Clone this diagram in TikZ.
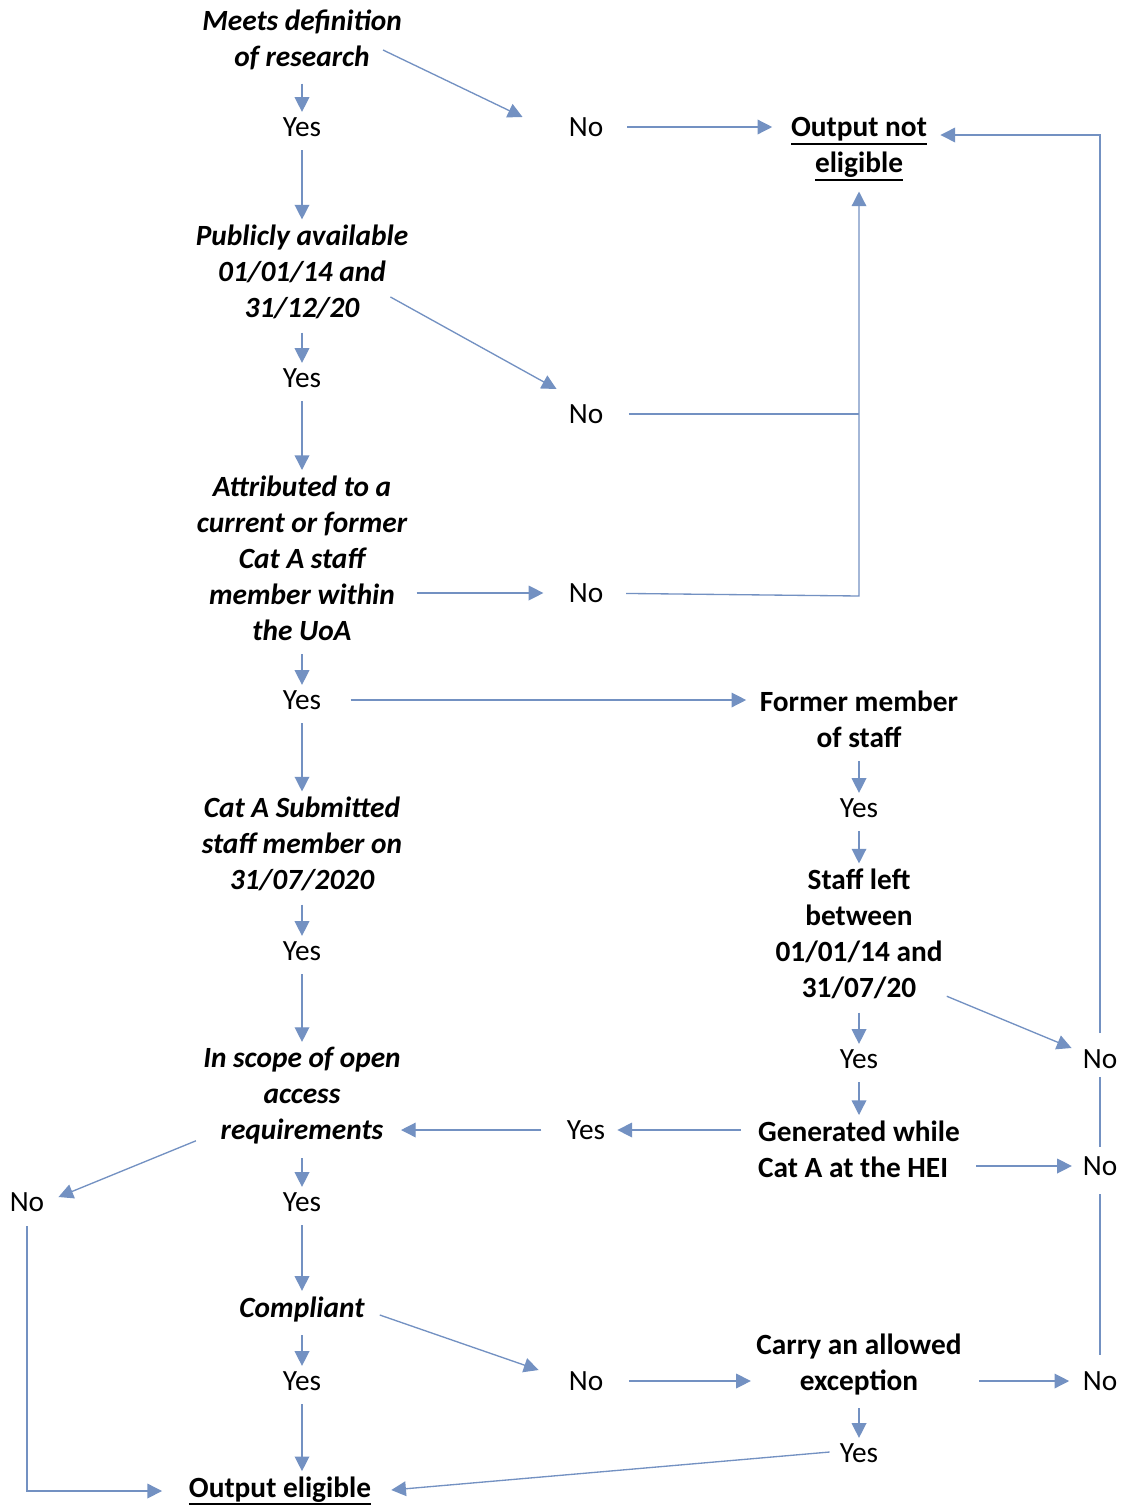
\documentclass[tikz,border=0pt]{standalone}
\usepackage{fontspec}
\setmainfont{Carlito}
\usepackage{tikz}
\usetikzlibrary{arrows.meta,positioning,calc}
\definecolor{rline}{HTML}{7391C2}
\newcommand{\thickul}[1]{\setbox0\hbox{#1}\leavevmode\copy0\llap{\rule[-0.27em]{\wd0}{1.5pt}}}

\begin{document}
\begin{tikzpicture}[x=0.75pt,y=-0.75pt,
  every node/.style={font=\fontsize{22}{27}\selectfont,inner sep=0pt},
  ques/.style={font=\fontsize{22}{27}\selectfont\bfseries\itshape,align=center},
  stat/.style={font=\fontsize{22}{27}\selectfont\bfseries,align=center},
  arr/.style={draw=rline,line width=1pt,-{Triangle[length=11pt,width=11pt]}},
  down/.style={arr,shorten <=10pt,shorten >=4pt},
  link/.style={draw=rline,line width=1pt}]
  \useasboundingbox (0,0) rectangle (1123,1507);
  % left column
  \node[ques] (meets) at (302,40) {Meets definition\\of research};
  \node (yesA) at (302,127) {Yes};
  \node[ques] (public) at (302,272) {Publicly available\\01/01/14 and\\31/12/20};
  \node (yesB) at (302,378) {Yes};
  \node[ques] (attrib) at (302,558) {Attributed to a\\current or former\\Cat A staff\\member within\\the UoA};
  \node (yesC) at (302,700) {Yes};
  \node[ques] (catA) at (302,844) {Cat A Submitted\\staff member on\\31/07/2020};
  \node (yesD) at (302,951) {Yes};
  \node[ques] (scope) at (302,1096) {In scope of open\\access\\requirements};
  \node (yesE) at (302,1202) {Yes};
  \node[ques] (compl) at (302,1309) {Compliant};
  \node (yesK) at (302,1381) {Yes};
  \node[stat] (elig) at (280,1491) {\thickul{Output eligible}};
  \node (noE) at (27,1202) {No};
  % middle column
  \node (noA) at (586,127) {No};
  \node (noB) at (586,414) {No};
  \node (noC) at (586,593) {No};
  \node (yesH) at (586,1130) {Yes};
  \node (noK) at (586,1381) {No};
  % right column
  \node[stat] (notel) at (859,149) {\thickul{Output not}\\\thickul{eligible}};
  \node[stat] (former) at (859,719) {Former member\\of staff};
  \node (yesF) at (859,808) {Yes};
  \node[stat] (left) at (859,934) {Staff left\\between\\01/01/14 and\\31/07/20};
  \node (yesG) at (859,1059) {Yes};
  \node[stat,align=left] (gener) at (859,1149) {Generated while\\Cat A at the HEI};
  \node[stat] (except) at (859,1364) {Carry an allowed\\exception};
  \node (yesX) at (859,1453) {Yes};
  \node (noG) at (1100,1059) {No};
  \node (noH) at (1100,1166) {No};
  \node (noX) at (1100,1381) {No};
  \coordinate (jn) at (859,596);

  % yes branches
  \draw[down] (meets) -- (yesA);
  \draw[down] (yesA) -- (public);
  \draw[down] (public) -- (yesB);
  \draw[down] (yesB) -- (attrib);
  \draw[down] (attrib) -- (yesC);
  \draw[down] (yesC) -- (catA);
  \draw[down] (catA) -- (yesD);
  \draw[down] (yesD) -- (scope);
  \draw[down] (scope) -- (yesE);
  \draw[down] (yesE) -- (compl);
  \draw[down] (compl) -- (yesK);
  \draw[down] (yesK) -- (elig.north -| yesK);
  \draw[down] (former) -- (yesF);
  \draw[down] (yesF) -- (left);
  \draw[down] (left) -- (yesG);
  \draw[down] (yesG) -- (gener.north -| yesG);
  \draw[down] (except) -- (yesX);

  % no branches
  \draw[arr] ($(meets.east)+(-19,10)$) -- ($(noA.west)+(-46,-10)$);
  \draw[arr,shorten <=18pt,shorten >=14pt] (noA) -- (notel.west |- noA);
  \draw[arr] ($(public.east)+(-18,25)$) -- ($(noB.west)+(-12,-25)$);
  \draw[link,shorten <=19pt] (noB) -- (noB -| jn);
  \draw[arr,shorten <=7pt] (attrib.east |- noC) -- ++(136,0);
  \draw[arr,shorten <=17pt,shorten >=8pt] (noC) -- (jn) -- (notel.south);
  \draw[arr,shorten <=22pt,shorten >=10pt] (yesC) -- (yesC -| former.west);
  \draw[arr] ($(left.south east)+(4,-3)$) -- ($(noG.west)+(-11,-11)$);
  \draw[arr,shorten <=12pt,shorten >=10pt] (noG) |- ($(notel.east)+(0,-14)$);
  \draw[link,shorten <=6pt,shorten >=7pt] (noG) -- (noH);
  \draw[link,shorten <=14pt,shorten >=12pt] (noH) -- (noX);
  \draw[arr,shorten <=13pt,shorten >=9pt] (gener.west |- yesH) -- (yesH);
  \draw[arr,shorten <=19pt] (yesH) -- (yesH -| scope.east);
  \draw[arr,shorten <=12pt,shorten >=8pt] (noH -| gener.east) -- (noH);
  \draw[arr] ($(scope.south west)+(-7,-4)$) -- ($(noE.east)+(14,-5)$);
  \draw[arr,shorten <=11pt,shorten >=20pt] (noE) |- (elig);
  \draw[arr] ($(compl.east)+(15,6)$) -- ($(noK.west)+(-30,-11)$);
  \draw[arr,shorten <=19pt,shorten >=4pt] (noK) -- (noK -| except.west);
  \draw[arr,shorten <=13pt,shorten >=10pt] (noX -| except.east) -- (noX);
  \draw[arr] ($(yesX.west)+(-10,-1)$) -- ($(elig.east)+(20,-1)$);
\end{tikzpicture}
\end{document}
